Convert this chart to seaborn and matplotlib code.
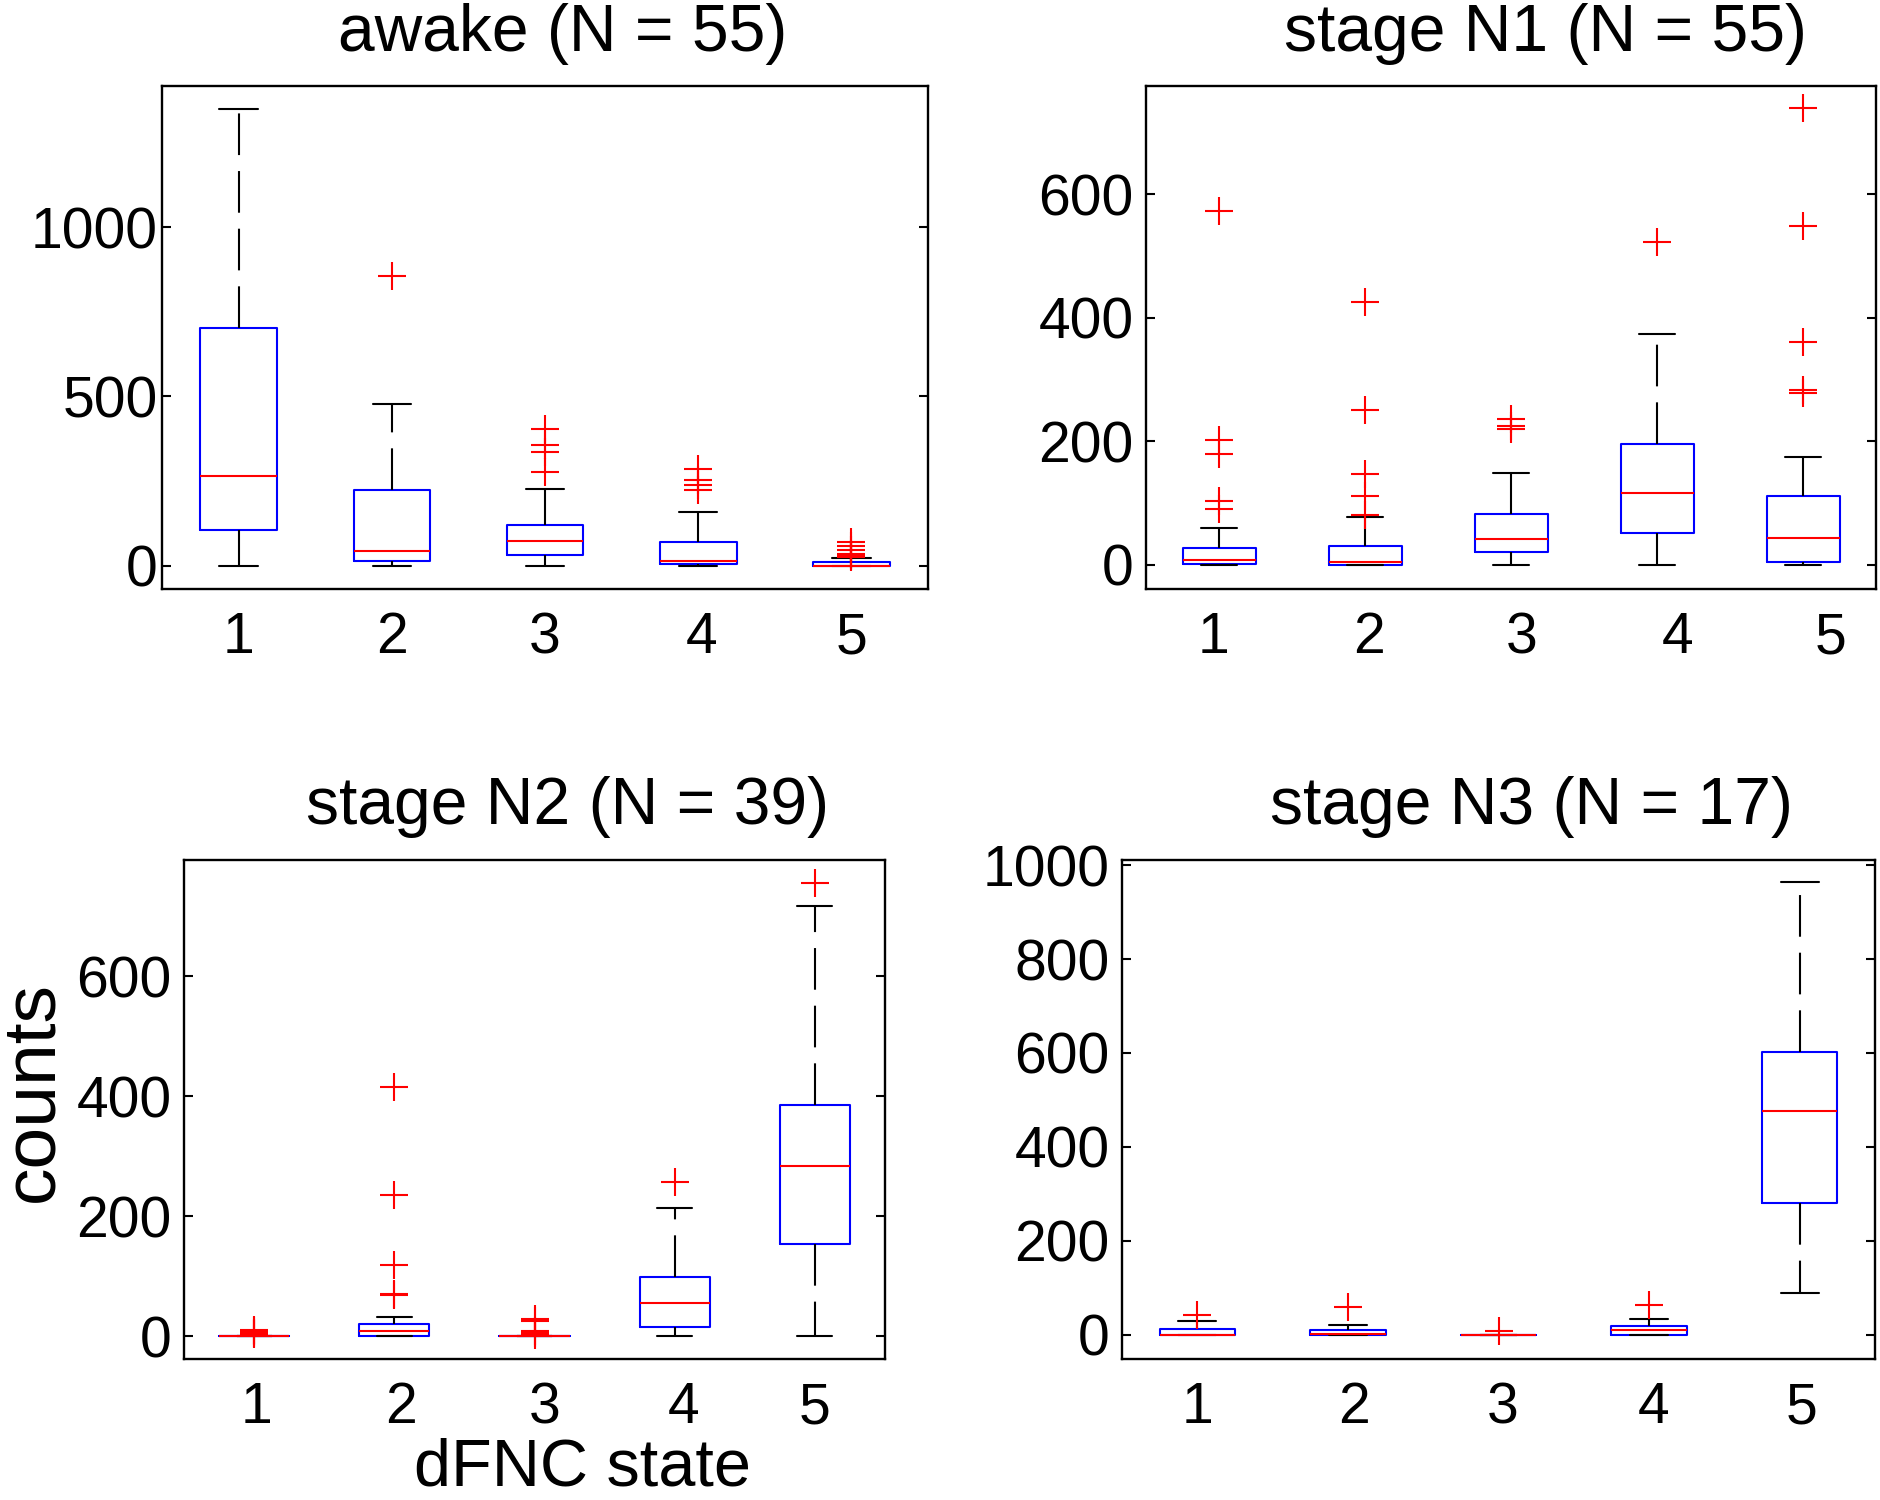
import matplotlib
matplotlib.use("Agg")
import matplotlib.pyplot as plt
import seaborn as sns

# ---------------- data ----------------
states = ["1", "2", "3", "4", "5"]

awake_title = "awake (N = 55)"
awake_q1 = [105, 15, 33, 5, 0]
awake_med = [265, 44, 73, 15, 0]
awake_q3 = [701, 224, 120, 72, 11]
awake_lo = [0, 0, 0, 0, 0]
awake_hi = [1347, 479, 227, 159, 23]
awake_out = [[], [855], [403, 358, 336, 276], [285, 255, 238, 223],
             [72, 60, 48, 36, 32, 28, 25]]
awake_yticks = [0, 500, 1000]

n1_title = "stage N1 (N = 55)"
n1_q1 = [1, 0.5, 21, 51, 4]
n1_med = [8, 4, 42, 117, 44]
n1_q3 = [27, 30, 82, 195, 112]
n1_lo = [0, 0, 0, 0, 0]
n1_hi = [60, 77, 149, 374, 174]
n1_out = [[572, 202, 180, 104, 91], [426, 251, 147, 112, 81],
          [236, 224, 220], [522], [739, 549, 360, 283, 278]]
n1_yticks = [0, 200, 400, 600]

n2_title = "stage N2 (N = 39)"
n2_q1 = [0, 0, 0, 15, 154]
n2_med = [0, 8, 0, 56, 283]
n2_q3 = [0, 21, 0, 99, 386]
n2_lo = [0, 0, 0, 0, 0]
n2_hi = [0, 32, 0, 213, 718]
n2_out = [[11, 8, 5, 3], [415, 236, 118, 70, 68], [29, 25, 8, 5, 2],
          [257], [756]]
n2_yticks = [0, 200, 400, 600]

n3_title = "stage N3 (N = 17)"
n3_q1 = [0, 0, 0, 0, 280]
n3_med = [0, 1, 0, 9, 477]
n3_q3 = [12, 10, 0, 18, 602]
n3_lo = [0, 0, 0, 0, 88]
n3_hi = [28, 21, 0, 33, 965]
n3_out = [[42], [58], [7], [64], []]
n3_yticks = [0, 200, 400, 600, 800, 1000]

x_label = "dFNC state"
y_label = "counts"

# ---------------- style ----------------
sns.set_theme(style="white")
plt.rcParams["font.family"] = ["Liberation Sans", "DejaVu Sans"]

W, H = 1880, 1500
fig = plt.figure(figsize=(W / 100, H / 100), dpi=100)


def px_rect(left, top, right, bottom):
    return [left / W, 1 - bottom / H, (right - left) / W, (bottom - top) / H]


LW = 1.5
panels = [
    dict(rect=px_rect(162, 86, 928, 589), ylim=(-68, 1416), ypad=3,
         xlabpos=[1.0, 2.0, 3.0, 4.02, 5.0],
         q1=awake_q1, med=awake_med, q3=awake_q3, lo=awake_lo, hi=awake_hi,
         out=awake_out, yticks=awake_yticks, title=awake_title, tpos=(563, 51)),
    dict(rect=px_rect(1146, 86, 1876, 589), ylim=(-39, 775), ypad=9,
         xlabpos=[0.96, 2.03, 3.07, 4.14, 5.19],
         q1=n1_q1, med=n1_med, q3=n1_q3, lo=n1_lo, hi=n1_hi,
         out=n1_out, yticks=n1_yticks, title=n1_title, tpos=(1546, 51)),
    dict(rect=px_rect(184, 860, 885, 1359), ylim=(-38, 794), ypad=9,
         xlabpos=[1.02, 2.05, 3.07, 4.06, 5.0],
         q1=n2_q1, med=n2_med, q3=n2_q3, lo=n2_lo, hi=n2_hi,
         out=n2_out, yticks=n2_yticks, title=n2_title, tpos=(568, 824)),
    dict(rect=px_rect(1122, 860, 1875, 1359), ylim=(-52, 1011), ypad=9,
         xlabpos=[1.0, 2.04, 3.03, 4.03, 5.01],
         q1=n3_q1, med=n3_med, q3=n3_q3, lo=n3_lo, hi=n3_hi,
         out=n3_out, yticks=n3_yticks, title=n3_title, tpos=(1531, 824)),
]

dash = (0, (30 / LW, 11.5 / LW))

for p in panels:
    ax = fig.add_axes(p["rect"])
    stats = []
    for i, s in enumerate(states):
        stats.append(dict(label=s, q1=p["q1"][i], med=p["med"][i], q3=p["q3"][i],
                          whislo=p["lo"][i], whishi=p["hi"][i],
                          fliers=p["out"][i]))
    ax.bxp(stats, positions=range(1, len(states) + 1), widths=0.5,
           capwidths=0.25, manage_ticks=False,
           boxprops=dict(color="blue", linewidth=LW),
           medianprops=dict(color="red", linewidth=LW, zorder=3),
           whiskerprops=dict(color="black", linewidth=LW, linestyle=dash),
           capprops=dict(color="black", linewidth=LW),
           flierprops=dict(marker="+", markeredgecolor="red",
                           markerfacecolor="red", markersize=20,
                           markeredgewidth=LW, linestyle="none", zorder=4))
    ax.set_xlim(0.5, len(states) + 0.5)
    ax.set_ylim(*p["ylim"])
    ax.set_xticks(p["xlabpos"])
    ax.set_xticklabels(states)
    ax.set_yticks(p["yticks"])
    ax.set_yticklabels([str(t) for t in p["yticks"]])
    ax.tick_params(axis="x", length=0, pad=16, labelsize=41, colors="black")
    ax.tick_params(axis="y", direction="in", length=6.5, width=LW,
                   pad=p["ypad"], labelsize=41, left=True, right=True,
                   colors="black")
    for sp in ax.spines.values():
        sp.set_visible(True)
        sp.set_color("black")
        sp.set_linewidth(1.7)
    ax.set_facecolor("white")
    ax.grid(False)
    fig.text(p["tpos"][0] / W, 1 - p["tpos"][1] / H, p["title"],
             ha="center", va="baseline", fontsize=47.5, color="black")

fig.text(52 / W, 1 - 1092 / H, y_label, rotation=90, rotation_mode="anchor",
         ha="center", va="baseline", fontsize=54, color="black")
fig.text(583 / W, 1 - 1486 / H, x_label, ha="center", va="baseline",
         fontsize=48, color="black")

fig.savefig("out.png", dpi=100, facecolor="white")
